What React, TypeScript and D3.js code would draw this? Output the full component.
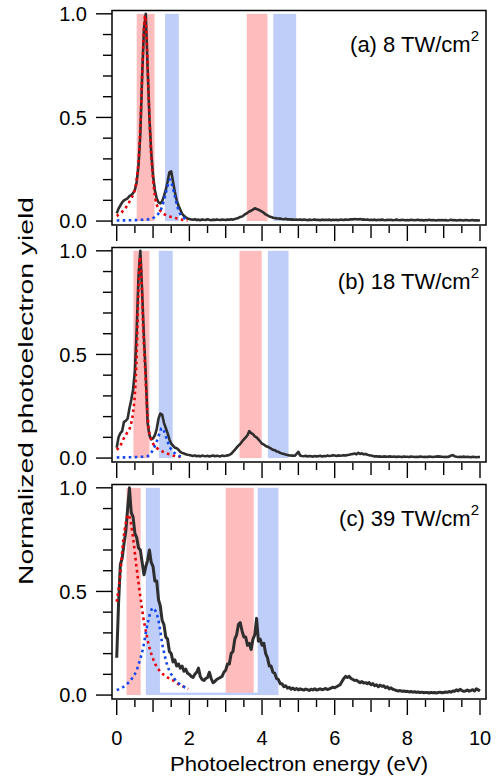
import React from "react";
import * as d3 from "d3";

// photoelectron spectra, sampled every 0.05 eV from 0 to 10 eV
const energyStep = 0.05;

const yieldA = [
  0.037, 0.06, 0.075, 0.09, 0.1, 0.105, 0.11, 0.12, 0.125, 0.135, 0.15, 0.19, 0.27, 0.42, 0.7, 0.93, 1.0, 0.74, 0.5, 0.33,
  0.22, 0.15, 0.11, 0.09, 0.085, 0.095, 0.12, 0.15, 0.19, 0.235, 0.24, 0.19, 0.14, 0.1, 0.075, 0.055, 0.035, 0.025, 0.018, 0.012,
  0.01, 0.008, 0.006, 0.009, 0.005, 0.007, 0.004, 0.008, 0.006, 0.005, 0.009, 0.006, 0.004, 0.007, 0.005, 0.008, 0.006, 0.005, 0.007, 0.006,
  0.005, 0.008, 0.006, 0.009, 0.007, 0.01, 0.012, 0.015, 0.02, 0.022, 0.028, 0.035, 0.04, 0.046, 0.05, 0.055, 0.062, 0.058, 0.055, 0.05,
  0.045, 0.04, 0.032, 0.028, 0.022, 0.02, 0.016, 0.015, 0.013, 0.012, 0.012, 0.01, 0.009, 0.011, 0.008, 0.009, 0.007, 0.008, 0.006, 0.007,
  0.006, 0.008, 0.005, 0.007, 0.006, 0.004, 0.007, 0.005, 0.006, 0.008, 0.005, 0.006, 0.004, 0.007, 0.005, 0.006, 0.005, 0.007, 0.004, 0.006,
  0.005, 0.006, 0.004, 0.007, 0.006, 0.005, 0.008, 0.006, 0.007, 0.009, 0.008, 0.01, 0.009, 0.008, 0.01, 0.007, 0.008, 0.006, 0.007, 0.005,
  0.006, 0.005, 0.007, 0.004, 0.006, 0.005, 0.007, 0.005, 0.004, 0.006, 0.005, 0.006, 0.004, 0.005, 0.007, 0.005, 0.004, 0.006, 0.005, 0.004,
  0.005, 0.004, 0.006, 0.005, 0.004, 0.005, 0.006, 0.004, 0.005, 0.003, 0.005, 0.004, 0.006, 0.004, 0.005, 0.004, 0.003, 0.005, 0.004, 0.005,
  0.004, 0.005, 0.003, 0.004, 0.006, 0.004, 0.005, 0.003, 0.004, 0.005, 0.004, 0.003, 0.005, 0.004, 0.003, 0.004, 0.005, 0.003, 0.004, 0.003,
  0.004,
];

const yieldB = [
  0.05, 0.1, 0.12, 0.13, 0.175, 0.18, 0.19, 0.24, 0.28, 0.33, 0.42, 0.62, 0.88, 1.0, 0.8, 0.58, 0.4, 0.17, 0.11, 0.09,
  0.095, 0.11, 0.14, 0.19, 0.215, 0.21, 0.17, 0.145, 0.12, 0.09, 0.07, 0.06, 0.05, 0.048, 0.04, 0.03, 0.025, 0.022, 0.018, 0.016,
  0.015, 0.012, 0.01, 0.013, 0.009, 0.011, 0.008, 0.012, 0.01, 0.009, 0.011, 0.008, 0.01, 0.012, 0.009, 0.011, 0.01, 0.008, 0.012, 0.01,
  0.011, 0.013, 0.015, 0.02, 0.03, 0.04, 0.05, 0.06, 0.068, 0.08, 0.09, 0.1, 0.11, 0.13, 0.12, 0.115, 0.105, 0.1, 0.09, 0.08,
  0.07, 0.065, 0.058, 0.055, 0.05, 0.045, 0.04, 0.038, 0.032, 0.03, 0.025, 0.022, 0.02, 0.017, 0.015, 0.013, 0.012, 0.012, 0.011, 0.02,
  0.03, 0.012, 0.01, 0.009, 0.011, 0.008, 0.01, 0.009, 0.007, 0.01, 0.008, 0.009, 0.011, 0.008, 0.01, 0.009, 0.012, 0.01, 0.011, 0.013,
  0.012, 0.01, 0.013, 0.011, 0.012, 0.014, 0.012, 0.015, 0.016, 0.018, 0.02, 0.022, 0.018, 0.025, 0.02, 0.023, 0.018, 0.02, 0.016, 0.014,
  0.012, 0.01, 0.008, 0.009, 0.007, 0.008, 0.006, 0.008, 0.007, 0.006, 0.008, 0.007, 0.006, 0.007, 0.005, 0.007, 0.006, 0.005, 0.007, 0.006,
  0.006, 0.005, 0.007, 0.006, 0.005, 0.006, 0.005, 0.007, 0.006, 0.005, 0.006, 0.005, 0.007, 0.006, 0.005, 0.006, 0.007, 0.008, 0.007, 0.006,
  0.005, 0.006, 0.005, 0.007, 0.012, 0.014, 0.009, 0.006, 0.005, 0.006, 0.005, 0.007, 0.005, 0.006, 0.005, 0.004, 0.006, 0.005, 0.004, 0.005,
  0.005,
];

const yieldC = [
  0.18, 0.44, 0.63, 0.66, 0.73, 0.79, 0.9, 1.0, 0.88, 0.86, 0.78, 0.76, 0.71, 0.7, 0.64, 0.58, 0.62, 0.65, 0.7, 0.64,
  0.62, 0.55, 0.55, 0.46, 0.43, 0.36, 0.34, 0.28, 0.27, 0.21, 0.2, 0.16, 0.17, 0.14, 0.15, 0.13, 0.14, 0.115, 0.125, 0.105,
  0.1, 0.09, 0.085, 0.1, 0.11, 0.13, 0.09, 0.075, 0.07, 0.08, 0.085, 0.11, 0.08, 0.06, 0.065, 0.075, 0.08, 0.085, 0.09, 0.11,
  0.12, 0.15, 0.15, 0.2, 0.21, 0.27, 0.29, 0.34, 0.35, 0.31, 0.28, 0.28, 0.24, 0.25, 0.22, 0.27, 0.29, 0.37, 0.26, 0.27,
  0.24, 0.25, 0.2, 0.18, 0.14, 0.14, 0.11, 0.105, 0.08, 0.075, 0.055, 0.055, 0.04, 0.045, 0.033, 0.038, 0.028, 0.034, 0.026, 0.032,
  0.025, 0.03, 0.027, 0.024, 0.029, 0.026, 0.022, 0.028, 0.025, 0.03, 0.024, 0.027, 0.03, 0.026, 0.028, 0.032, 0.027, 0.03, 0.034, 0.038,
  0.035, 0.04, 0.045, 0.05, 0.065, 0.08, 0.09, 0.085, 0.09, 0.08, 0.075, 0.07, 0.072, 0.065, 0.06, 0.065, 0.058, 0.06, 0.055, 0.06,
  0.05, 0.055, 0.045, 0.05, 0.04, 0.048, 0.042, 0.045, 0.035, 0.04, 0.03, 0.035, 0.028, 0.025, 0.022, 0.02, 0.022, 0.018, 0.02, 0.017,
  0.018, 0.015, 0.017, 0.014, 0.016, 0.013, 0.015, 0.012, 0.014, 0.011, 0.013, 0.012, 0.01, 0.013, 0.011, 0.012, 0.01, 0.012, 0.014, 0.011,
  0.012, 0.015, 0.013, 0.017, 0.014, 0.02, 0.018, 0.025, 0.02, 0.028, 0.022, 0.018, 0.02, 0.024, 0.019, 0.022, 0.026, 0.02, 0.03, 0.025,
  0.02,
];

// fitted components [energy, yield]
const redFitA = [[0, 0.024], [0.15, 0.045], [0.27, 0.07], [0.4, 0.11], [0.46, 0.13], [0.55, 0.2], [0.6, 0.29], [0.65, 0.45], [0.7, 0.7], [0.75, 0.93], [0.78, 0.99], [0.82, 0.9], [0.87, 0.65], [0.92, 0.42], [0.97, 0.27], [1.03, 0.15], [1.1, 0.08], [1.2, 0.05], [1.28, 0.037], [1.4, 0.025], [1.56, 0.018], [1.7, 0.01], [1.83, 0.005], [1.95, 0.003]];
const blueFitA = [[0, 0.003], [0.4, 0.004], [0.7, 0.006], [0.92, 0.01], [1.05, 0.02], [1.15, 0.037], [1.25, 0.07], [1.33, 0.12], [1.4, 0.17], [1.47, 0.2], [1.53, 0.17], [1.6, 0.12], [1.67, 0.07], [1.74, 0.037], [1.83, 0.018], [1.93, 0.008]];
const redFitB = [[0, 0.04], [0.1, 0.06], [0.18, 0.09], [0.28, 0.12], [0.37, 0.15], [0.45, 0.22], [0.5, 0.31], [0.55, 0.5], [0.6, 0.82], [0.64, 0.97], [0.68, 0.88], [0.73, 0.62], [0.78, 0.44], [0.83, 0.26], [0.87, 0.16], [0.93, 0.1], [1.0, 0.07], [1.1, 0.05], [1.28, 0.03], [1.45, 0.018], [1.6, 0.01], [1.75, 0.005]];
const blueFitB = [[0, 0.003], [0.4, 0.004], [0.7, 0.006], [0.83, 0.008], [0.92, 0.02], [1.0, 0.04], [1.08, 0.07], [1.15, 0.105], [1.2, 0.13], [1.24, 0.145], [1.3, 0.13], [1.38, 0.09], [1.47, 0.05], [1.56, 0.03], [1.7, 0.012], [1.83, 0.005]];
const redFitC = [[0, 0.45], [0.09, 0.57], [0.18, 0.745], [0.25, 0.83], [0.32, 0.87], [0.39, 0.83], [0.46, 0.745], [0.53, 0.64], [0.6, 0.54], [0.67, 0.45], [0.73, 0.375], [0.8, 0.31], [0.87, 0.25], [0.96, 0.195], [1.06, 0.15], [1.17, 0.12], [1.28, 0.1], [1.42, 0.083], [1.56, 0.07], [1.68, 0.055], [1.79, 0.045], [1.97, 0.03]];
const blueFitC = [[0, 0.024], [0.14, 0.035], [0.28, 0.053], [0.42, 0.08], [0.55, 0.12], [0.64, 0.17], [0.73, 0.23], [0.8, 0.3], [0.87, 0.36], [0.93, 0.4], [1.0, 0.42], [1.08, 0.4], [1.15, 0.36], [1.2, 0.31], [1.24, 0.26], [1.31, 0.2], [1.38, 0.15], [1.47, 0.11], [1.56, 0.085], [1.65, 0.065], [1.74, 0.053], [1.85, 0.04], [1.97, 0.03]];

// shaded energy windows [from, to] in eV
const pinkBandsA = [[0.55, 1.04], [3.58, 4.15]];
const blueBandsA = [[1.33, 1.71], [4.31, 4.94]];
const pinkBandsB = [[0.46, 0.9], [3.38, 3.99]];
const blueBandsB = [[1.16, 1.54], [4.16, 4.73]];
const pinkBandsC = [[0.27, 0.66], [3.0, 3.77]];
const blueBandsC = [[0.8, 1.19], [3.88, 4.45]];
const baseStripC = [[1.19, 4.45]];

const panelLabels = ["(a) 8 TW/cm", "(b) 18 TW/cm", "(c) 39 TW/cm"];
const xTickLabels = [0, 2, 4, 6, 8, 10];
const yTickLabels = ["0.0", "0.5", "1.0"];

const font = "'Liberation Sans', Arial, sans-serif";
const pink = "#ffbcbc";
const lightBlue = "#bfcef8";

const frameLeft = 112;
const frameRight = 486;
const panelH = 214.5;
const panelTops = [10.5, 247.5, 484.5];

const x = d3.scaleLinear().domain([-0.13, 10.165]).range([frameLeft, frameRight]);

function Panel({ top, values, redFit, blueFit, pinkBands, blueBands, strips, label, showLabels, lineWidth }) {
  const y = d3.scaleLinear().domain([-0.019, 1.016]).range([top + panelH, top]);
  const trace = d3.line<number>().x((_, i) => x(i * energyStep)).y((v) => y(v));
  const fit = d3.line<number[]>().x((d) => x(d[0])).y((d) => y(d[1])).curve(d3.curveMonotoneX);
  const bottom = top + panelH;
  const xTicks = x.ticks(20).filter((t) => t >= 0 && t <= 10);
  const yTicks = y.ticks(10).filter((t) => t >= 0 && t <= 1.0001);

  return (
    <g>
      {pinkBands.map((b, i) => (
        <rect key={"p" + i} x={x(b[0])} width={x(b[1]) - x(b[0])} y={y(1)} height={y(0) - y(1)} fill={pink} />
      ))}
      {blueBands.map((b, i) => (
        <rect key={"b" + i} x={x(b[0])} width={x(b[1]) - x(b[0])} y={y(1)} height={y(0) - y(1)} fill={lightBlue} />
      ))}
      {strips.map((b, i) => (
        <rect key={"s" + i} x={x(b[0])} width={x(b[1]) - x(b[0])} y={y(0.012)} height={y(0) - y(0.012)} fill={lightBlue} />
      ))}
      <path d={trace(values)} fill="none" stroke="#2e2e2e" strokeWidth={lineWidth} strokeLinejoin="round" />
      <path d={fit(redFit)} fill="none" stroke="#e8000b" strokeWidth={2.6} strokeDasharray="2.6 3.4" />
      <path d={fit(blueFit)} fill="none" stroke="#1447f0" strokeWidth={2.6} strokeDasharray="2.6 3.4" />
      <rect x={frameLeft} y={top} width={frameRight - frameLeft} height={panelH} fill="none" stroke="#000" strokeWidth={1.5} />
      {yTicks.map((t) => {
        const major = Math.abs(t * 2 - Math.round(t * 2)) < 1e-6;
        return <line key={"y" + t} x1={frameLeft} x2={frameLeft - (major ? 16 : 9)} y1={y(t)} y2={y(t)} stroke="#000" strokeWidth={1.4} />;
      })}
      {yTickLabels.map((s) => (
        <text key={s} x={87} y={y(+s)} dy="0.36em" textAnchor="end" fontSize={20} fontFamily={font}>{s}</text>
      ))}
      {xTicks.map((t) => {
        const len = t % 2 === 0 ? 15 : t % 1 === 0 ? 12 : 7;
        return <line key={"x" + t} x1={x(t)} x2={x(t)} y1={bottom + 1} y2={bottom + 1 + len} stroke="#000" strokeWidth={1.4} />;
      })}
      {showLabels && xTickLabels.map((t) => (
        <text key={"xl" + t} x={x(t)} y={745} textAnchor="middle" fontSize={20} fontFamily={font}>{t}</text>
      ))}
      <text x={479} y={top + 41.5} textAnchor="end" fontSize={22} fontFamily={font}>
        {label}
        <tspan dy={-11} fontSize={15}>2</tspan>
      </text>
    </g>
  );
}

export default function App() {
  const panels = [
    { values: yieldA, redFit: redFitA, blueFit: blueFitA, pinkBands: pinkBandsA, blueBands: blueBandsA, strips: [], lineWidth: 2.6 },
    { values: yieldB, redFit: redFitB, blueFit: blueFitB, pinkBands: pinkBandsB, blueBands: blueBandsB, strips: [], lineWidth: 2.6 },
    { values: yieldC, redFit: redFitC, blueFit: blueFitC, pinkBands: pinkBandsC, blueBands: blueBandsC, strips: baseStripC, lineWidth: 3 },
  ];
  return (
    <svg width={499} height={780} style={{ position: "absolute", left: 0, top: 0, background: "#fff" }}>
      {panels.map((p, i) => (
        <Panel key={i} top={panelTops[i]} label={panelLabels[i]} showLabels={i === 2} {...p} />
      ))}
      <text x={299} y={771} textAnchor="middle" fontSize={21} fontFamily={font} textLength={258} lengthAdjust="spacingAndGlyphs">
        Photoelectron energy (eV)
      </text>
      <text transform="translate(33,391) rotate(-90)" textAnchor="middle" fontSize={21} fontFamily={font} textLength={388} lengthAdjust="spacingAndGlyphs">
        Normalized photoelectron yield
      </text>
    </svg>
  );
}
